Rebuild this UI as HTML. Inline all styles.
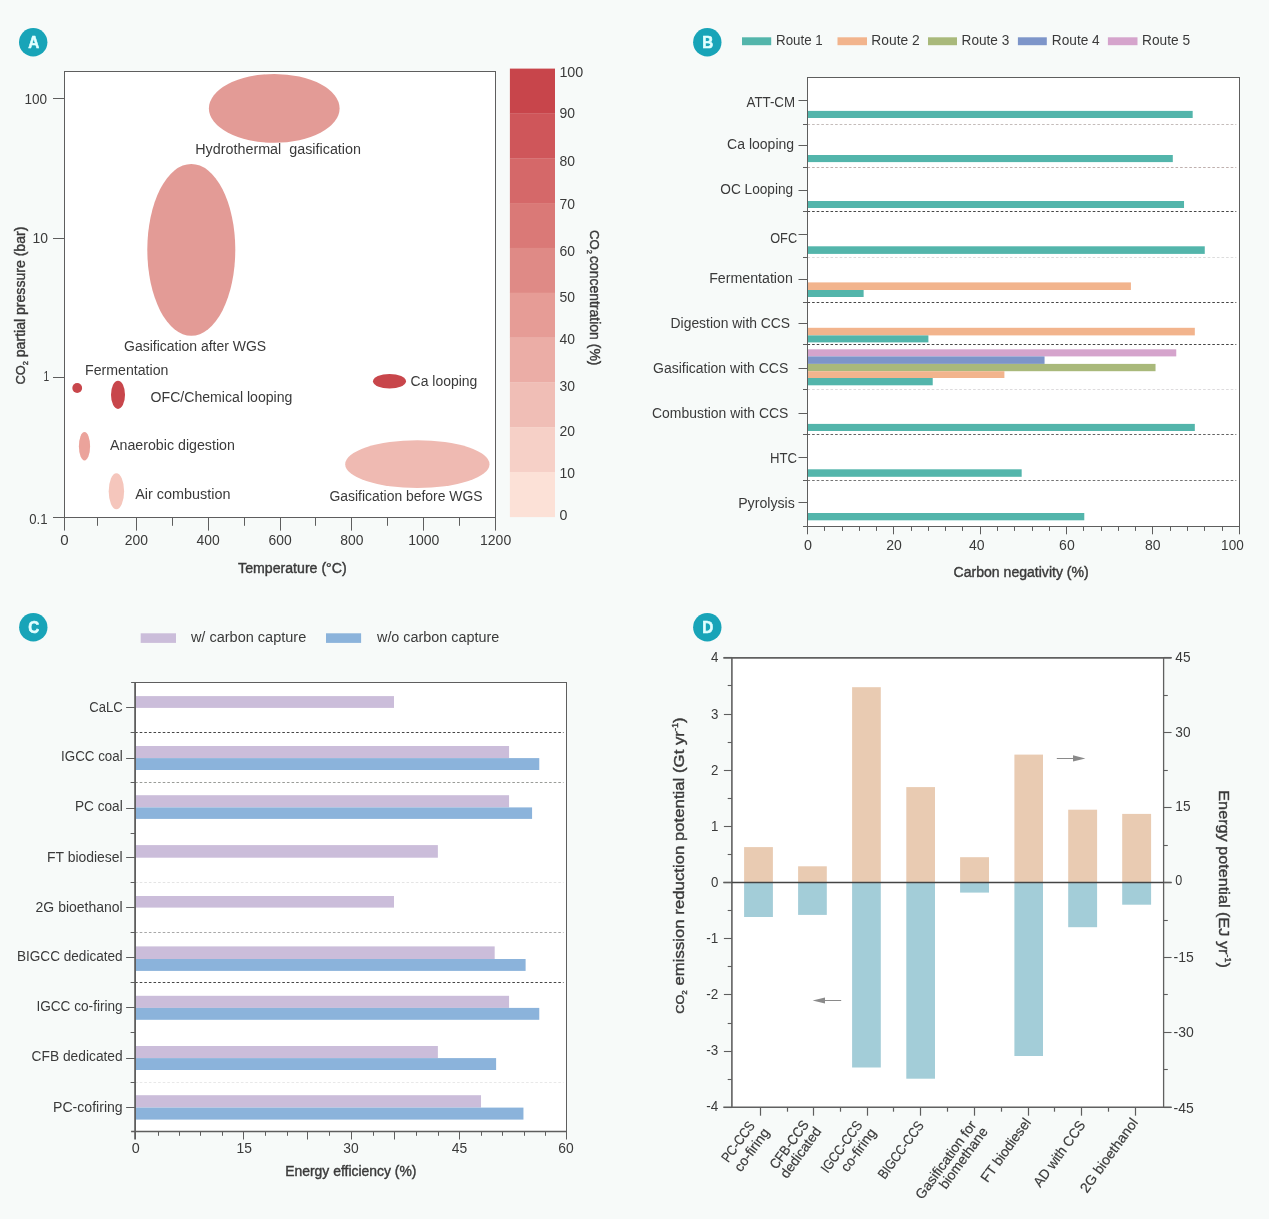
<!DOCTYPE html>
<html><head><meta charset="utf-8"><title>Figure</title>
<style>html,body{margin:0;padding:0;background:#f7faf9}svg{display:block}text{font-family:"Liberation Sans", sans-serif;fill:#3a3a3a}.m{stroke:#3a3a3a;stroke-width:0.4px}.r{stroke:#3a3a3a;stroke-width:0.2px}</style>
</head><body>
<svg width="1269" height="1219" viewBox="0 0 1269 1219">
<rect x="0" y="0" width="1269" height="1219" fill="#f7faf9"/>
<g style="will-change:transform">
<rect x="64.5" y="71.6" width="431.1" height="445.7" fill="#ffffff"/>
<ellipse cx="274.25" cy="108.4" rx="65.35" ry="34.4" fill="#e39b96"/>
<ellipse cx="191.3" cy="249.85" rx="44" ry="85.95" fill="#e39b96"/>
<ellipse cx="77.2" cy="388" rx="4.9" ry="4.9" fill="#c8464b"/>
<ellipse cx="118" cy="394.8" rx="7" ry="14.1" fill="#c8464b"/>
<ellipse cx="84.5" cy="446.25" rx="5.6" ry="14.15" fill="#eba39b"/>
<ellipse cx="116.4" cy="491.25" rx="7.7" ry="18.05" fill="#f5c6bc"/>
<ellipse cx="389.5" cy="381.25" rx="16.5" ry="7.35" fill="#c8464b"/>
<ellipse cx="417.35" cy="464.15" rx="72.15" ry="23.95" fill="#efbab2"/>
<rect x="64.5" y="71.5" width="431" height="446" fill="none" stroke="#5e5e5e" stroke-width="1"/>
<line x1="64.5" y1="517.3" x2="64.5" y2="530.6" stroke="#5e5e5e" stroke-width="1"/>
<line x1="97.5" y1="517.3" x2="97.5" y2="525.8" stroke="#5e5e5e" stroke-width="1"/>
<line x1="136.5" y1="517.3" x2="136.5" y2="530.6" stroke="#5e5e5e" stroke-width="1"/>
<line x1="172.5" y1="517.3" x2="172.5" y2="525.8" stroke="#5e5e5e" stroke-width="1"/>
<line x1="208.5" y1="517.3" x2="208.5" y2="530.6" stroke="#5e5e5e" stroke-width="1"/>
<line x1="244.5" y1="517.3" x2="244.5" y2="525.8" stroke="#5e5e5e" stroke-width="1"/>
<line x1="280.5" y1="517.3" x2="280.5" y2="530.6" stroke="#5e5e5e" stroke-width="1"/>
<line x1="315.5" y1="517.3" x2="315.5" y2="525.8" stroke="#5e5e5e" stroke-width="1"/>
<line x1="351.5" y1="517.3" x2="351.5" y2="530.6" stroke="#5e5e5e" stroke-width="1"/>
<line x1="387.5" y1="517.3" x2="387.5" y2="525.8" stroke="#5e5e5e" stroke-width="1"/>
<line x1="423.5" y1="517.3" x2="423.5" y2="530.6" stroke="#5e5e5e" stroke-width="1"/>
<line x1="459.5" y1="517.3" x2="459.5" y2="525.8" stroke="#5e5e5e" stroke-width="1"/>
<line x1="495.5" y1="517.3" x2="495.5" y2="530.6" stroke="#5e5e5e" stroke-width="1"/>
<line x1="53" y1="98.5" x2="64.5" y2="98.5" stroke="#5e5e5e" stroke-width="1"/>
<line x1="53" y1="238.5" x2="64.5" y2="238.5" stroke="#5e5e5e" stroke-width="1"/>
<line x1="53" y1="377.5" x2="64.5" y2="377.5" stroke="#5e5e5e" stroke-width="1"/>
<line x1="53" y1="517.5" x2="64.5" y2="517.5" stroke="#5e5e5e" stroke-width="1"/>
<text x="24.5" y="103.7" font-size="14" textLength="22.6" lengthAdjust="spacingAndGlyphs">100</text>
<text x="32.6" y="242.9" font-size="14" textLength="15.5" lengthAdjust="spacingAndGlyphs">10</text>
<text x="43.4" y="380.9" font-size="14" textLength="5.7" lengthAdjust="spacingAndGlyphs">1</text>
<text x="29.3" y="523.9" font-size="14" textLength="18.3" lengthAdjust="spacingAndGlyphs">0.1</text>
<text x="64.5" y="545.2" font-size="14" text-anchor="middle" textLength="8.4" lengthAdjust="spacingAndGlyphs">0</text>
<text x="136.35" y="545.2" font-size="14" text-anchor="middle" textLength="23.2" lengthAdjust="spacingAndGlyphs">200</text>
<text x="208.2" y="545.2" font-size="14" text-anchor="middle" textLength="23.2" lengthAdjust="spacingAndGlyphs">400</text>
<text x="280.05" y="545.2" font-size="14" text-anchor="middle" textLength="23.2" lengthAdjust="spacingAndGlyphs">600</text>
<text x="351.9" y="545.2" font-size="14" text-anchor="middle" textLength="23.2" lengthAdjust="spacingAndGlyphs">800</text>
<text x="423.75" y="545.2" font-size="14" text-anchor="middle" textLength="31.2" lengthAdjust="spacingAndGlyphs">1000</text>
<text x="495.6" y="545.2" font-size="14" text-anchor="middle" textLength="31.2" lengthAdjust="spacingAndGlyphs">1200</text>
<text x="238.1" y="573.2" font-size="14" textLength="108.6" lengthAdjust="spacingAndGlyphs" class="m">Temperature (&#176;C)</text>
<text transform="translate(24.6 384.6) rotate(-90)" font-size="14" class="m" textLength="158" lengthAdjust="spacingAndGlyphs"><tspan font-size="12.8">CO</tspan><tspan font-size="7.5" dy="3">2</tspan><tspan dy="-3"> partial pressure (bar)</tspan></text>
<text x="195.2" y="153.8" font-size="14" textLength="165.8" lengthAdjust="spacingAndGlyphs">Hydrothermal&#160; gasification</text>
<text x="124" y="350.6" font-size="14" textLength="142.2" lengthAdjust="spacingAndGlyphs">Gasification after WGS</text>
<text x="85" y="374.9" font-size="14" textLength="83.4" lengthAdjust="spacingAndGlyphs">Fermentation</text>
<text x="150.6" y="401.7" font-size="14" textLength="141.8" lengthAdjust="spacingAndGlyphs">OFC/Chemical looping</text>
<text x="110" y="449.5" font-size="14" textLength="124.9" lengthAdjust="spacingAndGlyphs">Anaerobic digestion</text>
<text x="135.2" y="498.9" font-size="14" textLength="95.2" lengthAdjust="spacingAndGlyphs">Air combustion</text>
<text x="410.6" y="386.2" font-size="14" textLength="66.7" lengthAdjust="spacingAndGlyphs">Ca looping</text>
<text x="329.4" y="500.5" font-size="14" textLength="153.2" lengthAdjust="spacingAndGlyphs">Gasification before WGS</text>
<rect x="509.9" y="68.6" width="45.1" height="45.12" fill="#c8454b"/>
<rect x="509.9" y="113.42" width="45.1" height="45.12" fill="#cf565a"/>
<rect x="509.9" y="158.24" width="45.1" height="45.12" fill="#d56869"/>
<rect x="509.9" y="203.06" width="45.1" height="45.12" fill="#da7977"/>
<rect x="509.9" y="247.88" width="45.1" height="45.12" fill="#df8a86"/>
<rect x="509.9" y="292.7" width="45.1" height="45.12" fill="#e69c96"/>
<rect x="509.9" y="337.52" width="45.1" height="45.12" fill="#ebada6"/>
<rect x="509.9" y="382.34" width="45.1" height="45.12" fill="#f0beb6"/>
<rect x="509.9" y="427.16" width="45.1" height="45.12" fill="#f6d0c7"/>
<rect x="509.9" y="471.98" width="45.1" height="45.12" fill="#fce1d7"/>
<text x="559.4" y="77.1" font-size="14" textLength="23.9" lengthAdjust="spacingAndGlyphs">100</text>
<text x="559.4" y="118" font-size="14" textLength="15.5" lengthAdjust="spacingAndGlyphs">90</text>
<text x="559.4" y="165.9" font-size="14" textLength="15.5" lengthAdjust="spacingAndGlyphs">80</text>
<text x="559.4" y="208.8" font-size="14" textLength="15.5" lengthAdjust="spacingAndGlyphs">70</text>
<text x="559.4" y="256.2" font-size="14" textLength="15.5" lengthAdjust="spacingAndGlyphs">60</text>
<text x="559.4" y="302.1" font-size="14" textLength="15.5" lengthAdjust="spacingAndGlyphs">50</text>
<text x="559.4" y="344.1" font-size="14" textLength="15.5" lengthAdjust="spacingAndGlyphs">40</text>
<text x="559.4" y="390.8" font-size="14" textLength="15.5" lengthAdjust="spacingAndGlyphs">30</text>
<text x="559.4" y="436.2" font-size="14" textLength="15.5" lengthAdjust="spacingAndGlyphs">20</text>
<text x="559.4" y="478.4" font-size="14" textLength="15.5" lengthAdjust="spacingAndGlyphs">10</text>
<text x="559.4" y="520" font-size="14" textLength="7.9" lengthAdjust="spacingAndGlyphs">0</text>
<text transform="translate(590.2 230) rotate(90)" font-size="14" class="m" textLength="135.5" lengthAdjust="spacingAndGlyphs"><tspan font-size="13.2">CO</tspan><tspan font-size="7.5" dy="3">2</tspan><tspan dy="-3" font-size="7">&#160;</tspan>concentration (%)</tspan></text>
<circle cx="33.2" cy="42.3" r="14.2" fill="#18a4b8"/>
<text x="33.7" y="48.1" font-size="17" text-anchor="middle" textLength="11" lengthAdjust="spacingAndGlyphs" font-weight="bold" style="fill:#e2ffff" stroke="#e2ffff" stroke-width="0.6" stroke-linejoin="round">A</text>
<rect x="807.5" y="77.7" width="431.8" height="448.6" fill="#ffffff"/>
<line x1="807.5" y1="124.5" x2="1236.3" y2="124.5" stroke="#c4bcba" stroke-width="1" stroke-dasharray="2.6 2"/>
<line x1="803" y1="124.5" x2="807.5" y2="124.5" stroke="#5e5e5e" stroke-width="1"/>
<line x1="807.5" y1="167.5" x2="1236.3" y2="167.5" stroke="#bfb0ae" stroke-width="1" stroke-dasharray="2.6 2"/>
<line x1="803" y1="167.5" x2="807.5" y2="167.5" stroke="#5e5e5e" stroke-width="1"/>
<line x1="807.5" y1="211.5" x2="1236.3" y2="211.5" stroke="#464646" stroke-width="1" stroke-dasharray="2.6 2"/>
<line x1="803" y1="211.5" x2="807.5" y2="211.5" stroke="#5e5e5e" stroke-width="1"/>
<line x1="807.5" y1="257.5" x2="1236.3" y2="257.5" stroke="#dcdcdc" stroke-width="1" stroke-dasharray="2.6 2"/>
<line x1="803" y1="257.5" x2="807.5" y2="257.5" stroke="#5e5e5e" stroke-width="1"/>
<line x1="807.5" y1="302.5" x2="1236.3" y2="302.5" stroke="#464646" stroke-width="1" stroke-dasharray="2.6 2"/>
<line x1="803" y1="302.5" x2="807.5" y2="302.5" stroke="#5e5e5e" stroke-width="1"/>
<line x1="807.5" y1="344.5" x2="1236.3" y2="344.5" stroke="#464646" stroke-width="1" stroke-dasharray="2.6 2"/>
<line x1="803" y1="344.5" x2="807.5" y2="344.5" stroke="#5e5e5e" stroke-width="1"/>
<line x1="807.5" y1="389.5" x2="1236.3" y2="389.5" stroke="#dddbdd" stroke-width="1" stroke-dasharray="2.6 2"/>
<line x1="803" y1="389.5" x2="807.5" y2="389.5" stroke="#5e5e5e" stroke-width="1"/>
<line x1="807.5" y1="434.5" x2="1236.3" y2="434.5" stroke="#646464" stroke-width="1" stroke-dasharray="2.6 2"/>
<line x1="803" y1="434.5" x2="807.5" y2="434.5" stroke="#5e5e5e" stroke-width="1"/>
<line x1="807.5" y1="480.5" x2="1236.3" y2="480.5" stroke="#747474" stroke-width="1" stroke-dasharray="2.6 2"/>
<line x1="803" y1="480.5" x2="807.5" y2="480.5" stroke="#5e5e5e" stroke-width="1"/>
<line x1="803" y1="526.5" x2="807.5" y2="526.5" stroke="#5e5e5e" stroke-width="1"/>
<rect x="807.5" y="110.9" width="385.17" height="7.1" fill="#53b5ab"/>
<rect x="807.5" y="155" width="365.3" height="7.1" fill="#53b5ab"/>
<rect x="807.5" y="201" width="376.53" height="7" fill="#53b5ab"/>
<rect x="807.5" y="246.3" width="397.26" height="7.6" fill="#53b5ab"/>
<rect x="807.5" y="282.4" width="323.42" height="7.6" fill="#f2b48d"/>
<rect x="807.5" y="290" width="56.13" height="7" fill="#53b5ab"/>
<rect x="807.5" y="327.8" width="387.32" height="7.6" fill="#f2b48d"/>
<rect x="807.5" y="335.4" width="120.9" height="7" fill="#53b5ab"/>
<rect x="807.5" y="349.3" width="368.76" height="7.1" fill="#d5a4cc"/>
<rect x="807.5" y="356.4" width="237.06" height="7.5" fill="#7d95c9"/>
<rect x="807.5" y="363.9" width="348.03" height="7.3" fill="#a9b97b"/>
<rect x="807.5" y="371.2" width="196.9" height="6.8" fill="#f2b48d"/>
<rect x="807.5" y="378" width="125.22" height="7.3" fill="#53b5ab"/>
<rect x="807.5" y="423.9" width="387.32" height="7.1" fill="#53b5ab"/>
<rect x="807.5" y="469.3" width="214.17" height="7.5" fill="#53b5ab"/>
<rect x="807.5" y="513" width="276.78" height="7.3" fill="#53b5ab"/>
<rect x="807.5" y="77.5" width="432" height="449" fill="none" stroke="#5e5e5e" stroke-width="1"/>
<line x1="807.5" y1="526.3" x2="807.5" y2="534.3" stroke="#5e5e5e" stroke-width="1"/>
<line x1="824.5" y1="526.3" x2="824.5" y2="530.9" stroke="#5e5e5e" stroke-width="1"/>
<line x1="842.5" y1="526.3" x2="842.5" y2="530.9" stroke="#5e5e5e" stroke-width="1"/>
<line x1="859.5" y1="526.3" x2="859.5" y2="530.9" stroke="#5e5e5e" stroke-width="1"/>
<line x1="876.5" y1="526.3" x2="876.5" y2="530.9" stroke="#5e5e5e" stroke-width="1"/>
<line x1="893.5" y1="526.3" x2="893.5" y2="534.3" stroke="#5e5e5e" stroke-width="1"/>
<line x1="911.5" y1="526.3" x2="911.5" y2="530.9" stroke="#5e5e5e" stroke-width="1"/>
<line x1="928.5" y1="526.3" x2="928.5" y2="530.9" stroke="#5e5e5e" stroke-width="1"/>
<line x1="945.5" y1="526.3" x2="945.5" y2="530.9" stroke="#5e5e5e" stroke-width="1"/>
<line x1="962.5" y1="526.3" x2="962.5" y2="530.9" stroke="#5e5e5e" stroke-width="1"/>
<line x1="980.5" y1="526.3" x2="980.5" y2="534.3" stroke="#5e5e5e" stroke-width="1"/>
<line x1="997.5" y1="526.3" x2="997.5" y2="530.9" stroke="#5e5e5e" stroke-width="1"/>
<line x1="1014.5" y1="526.3" x2="1014.5" y2="530.9" stroke="#5e5e5e" stroke-width="1"/>
<line x1="1032.5" y1="526.3" x2="1032.5" y2="530.9" stroke="#5e5e5e" stroke-width="1"/>
<line x1="1049.5" y1="526.3" x2="1049.5" y2="530.9" stroke="#5e5e5e" stroke-width="1"/>
<line x1="1066.5" y1="526.3" x2="1066.5" y2="534.3" stroke="#5e5e5e" stroke-width="1"/>
<line x1="1083.5" y1="526.3" x2="1083.5" y2="530.9" stroke="#5e5e5e" stroke-width="1"/>
<line x1="1101.5" y1="526.3" x2="1101.5" y2="530.9" stroke="#5e5e5e" stroke-width="1"/>
<line x1="1118.5" y1="526.3" x2="1118.5" y2="530.9" stroke="#5e5e5e" stroke-width="1"/>
<line x1="1135.5" y1="526.3" x2="1135.5" y2="530.9" stroke="#5e5e5e" stroke-width="1"/>
<line x1="1152.5" y1="526.3" x2="1152.5" y2="534.3" stroke="#5e5e5e" stroke-width="1"/>
<line x1="1170.5" y1="526.3" x2="1170.5" y2="530.9" stroke="#5e5e5e" stroke-width="1"/>
<line x1="1187.5" y1="526.3" x2="1187.5" y2="530.9" stroke="#5e5e5e" stroke-width="1"/>
<line x1="1204.5" y1="526.3" x2="1204.5" y2="530.9" stroke="#5e5e5e" stroke-width="1"/>
<line x1="1222.5" y1="526.3" x2="1222.5" y2="530.9" stroke="#5e5e5e" stroke-width="1"/>
<line x1="1239.5" y1="526.3" x2="1239.5" y2="534.3" stroke="#5e5e5e" stroke-width="1"/>
<text x="807.9" y="549.8" font-size="14" text-anchor="middle" textLength="8" lengthAdjust="spacingAndGlyphs">0</text>
<text x="894" y="549.8" font-size="14" text-anchor="middle" textLength="15.6" lengthAdjust="spacingAndGlyphs">20</text>
<text x="976.7" y="549.8" font-size="14" text-anchor="middle" textLength="15.6" lengthAdjust="spacingAndGlyphs">40</text>
<text x="1066.9" y="549.8" font-size="14" text-anchor="middle" textLength="15.6" lengthAdjust="spacingAndGlyphs">60</text>
<text x="1152.8" y="549.8" font-size="14" text-anchor="middle" textLength="15.6" lengthAdjust="spacingAndGlyphs">80</text>
<text x="1232.4" y="549.8" font-size="14" text-anchor="middle" textLength="22.6" lengthAdjust="spacingAndGlyphs">100</text>
<text x="953.6" y="576.7" font-size="14" textLength="135.1" lengthAdjust="spacingAndGlyphs" class="m">Carbon negativity (%)</text>
<line x1="798.5" y1="100.5" x2="807.5" y2="100.5" stroke="#5e5e5e" stroke-width="1"/>
<text x="746.5" y="106.9" font-size="14" textLength="48.6" lengthAdjust="spacingAndGlyphs">ATT-CM</text>
<line x1="798.5" y1="145.5" x2="807.5" y2="145.5" stroke="#5e5e5e" stroke-width="1"/>
<text x="727.1" y="148.9" font-size="14" textLength="67" lengthAdjust="spacingAndGlyphs">Ca looping</text>
<line x1="798.5" y1="190.5" x2="807.5" y2="190.5" stroke="#5e5e5e" stroke-width="1"/>
<text x="720.3" y="194.2" font-size="14" textLength="72.8" lengthAdjust="spacingAndGlyphs">OC Looping</text>
<line x1="798.5" y1="234.5" x2="807.5" y2="234.5" stroke="#5e5e5e" stroke-width="1"/>
<text x="770.2" y="242.6" font-size="14" textLength="26.9" lengthAdjust="spacingAndGlyphs">OFC</text>
<line x1="798.5" y1="279.5" x2="807.5" y2="279.5" stroke="#5e5e5e" stroke-width="1"/>
<text x="709.2" y="283.4" font-size="14" textLength="83.6" lengthAdjust="spacingAndGlyphs">Fermentation</text>
<line x1="798.5" y1="323.5" x2="807.5" y2="323.5" stroke="#5e5e5e" stroke-width="1"/>
<text x="670.6" y="327.8" font-size="14" textLength="119.5" lengthAdjust="spacingAndGlyphs">Digestion with CCS</text>
<line x1="798.5" y1="368.5" x2="807.5" y2="368.5" stroke="#5e5e5e" stroke-width="1"/>
<text x="653" y="373.2" font-size="14" textLength="135.3" lengthAdjust="spacingAndGlyphs">Gasification with CCS</text>
<line x1="798.5" y1="413.5" x2="807.5" y2="413.5" stroke="#5e5e5e" stroke-width="1"/>
<text x="652" y="417.8" font-size="14" textLength="136.3" lengthAdjust="spacingAndGlyphs">Combustion with CCS</text>
<line x1="798.5" y1="457.5" x2="807.5" y2="457.5" stroke="#5e5e5e" stroke-width="1"/>
<text x="770" y="463" font-size="14" textLength="27.1" lengthAdjust="spacingAndGlyphs">HTC</text>
<line x1="798.5" y1="502.5" x2="807.5" y2="502.5" stroke="#5e5e5e" stroke-width="1"/>
<text x="738.2" y="507.9" font-size="14" textLength="56.6" lengthAdjust="spacingAndGlyphs">Pyrolysis</text>
<rect x="742" y="37.3" width="29.2" height="7.9" fill="#53b5ab"/>
<text x="776" y="45.4" font-size="14.5" textLength="46.8" lengthAdjust="spacingAndGlyphs">Route 1</text>
<rect x="837.5" y="37.3" width="29.5" height="7.9" fill="#f2b48d"/>
<text x="871.3" y="45.4" font-size="14.5" textLength="48.4" lengthAdjust="spacingAndGlyphs">Route 2</text>
<rect x="928" y="37.3" width="29" height="7.9" fill="#a9b97b"/>
<text x="961.6" y="45.4" font-size="14.5" textLength="47.7" lengthAdjust="spacingAndGlyphs">Route 3</text>
<rect x="1017.9" y="37.3" width="28.9" height="7.9" fill="#7d95c9"/>
<text x="1051.8" y="45.4" font-size="14.5" textLength="47.9" lengthAdjust="spacingAndGlyphs">Route 4</text>
<rect x="1107.9" y="37.3" width="29.6" height="7.9" fill="#d5a4cc"/>
<text x="1142.1" y="45.4" font-size="14.5" textLength="47.9" lengthAdjust="spacingAndGlyphs">Route 5</text>
<circle cx="707.3" cy="42.3" r="14.2" fill="#18a4b8"/>
<text x="707.8" y="48.1" font-size="17" text-anchor="middle" textLength="11" lengthAdjust="spacingAndGlyphs" font-weight="bold" style="fill:#e2ffff" stroke="#e2ffff" stroke-width="0.6" stroke-linejoin="round">B</text>
<rect x="135.1" y="682.5" width="431.5" height="448.5" fill="#ffffff"/>
<line x1="135.1" y1="732.5" x2="563.6" y2="732.5" stroke="#464646" stroke-width="1" stroke-dasharray="2.6 2"/>
<line x1="130.6" y1="732.5" x2="135.1" y2="732.5" stroke="#5e5e5e" stroke-width="1"/>
<line x1="135.1" y1="782.5" x2="563.6" y2="782.5" stroke="#9a9c98" stroke-width="1" stroke-dasharray="2.6 2"/>
<line x1="130.6" y1="782.5" x2="135.1" y2="782.5" stroke="#5e5e5e" stroke-width="1"/>
<line x1="130.6" y1="833.5" x2="135.1" y2="833.5" stroke="#5e5e5e" stroke-width="1"/>
<line x1="135.1" y1="882.5" x2="563.6" y2="882.5" stroke="#e4e4e4" stroke-width="1" stroke-dasharray="2.6 2"/>
<line x1="130.6" y1="882.5" x2="135.1" y2="882.5" stroke="#5e5e5e" stroke-width="1"/>
<line x1="135.1" y1="932.5" x2="563.6" y2="932.5" stroke="#a8a8a8" stroke-width="1" stroke-dasharray="2.6 2"/>
<line x1="130.6" y1="932.5" x2="135.1" y2="932.5" stroke="#5e5e5e" stroke-width="1"/>
<line x1="135.1" y1="982.5" x2="563.6" y2="982.5" stroke="#464646" stroke-width="1" stroke-dasharray="2.6 2"/>
<line x1="130.6" y1="982.5" x2="135.1" y2="982.5" stroke="#5e5e5e" stroke-width="1"/>
<line x1="130.6" y1="1032.5" x2="135.1" y2="1032.5" stroke="#5e5e5e" stroke-width="1"/>
<line x1="135.1" y1="1082.5" x2="563.6" y2="1082.5" stroke="#e8e8e8" stroke-width="1" stroke-dasharray="2.6 2"/>
<line x1="130.6" y1="1082.5" x2="135.1" y2="1082.5" stroke="#5e5e5e" stroke-width="1"/>
<rect x="135.1" y="696.1" width="258.9" height="11.8" fill="#cbbdda"/>
<rect x="135.1" y="746" width="373.97" height="12.1" fill="#cbbdda"/>
<rect x="135.1" y="758.1" width="404.17" height="11.9" fill="#8bb3db"/>
<rect x="135.1" y="795.2" width="373.97" height="12.2" fill="#cbbdda"/>
<rect x="135.1" y="807.4" width="396.98" height="11.5" fill="#8bb3db"/>
<rect x="135.1" y="845.1" width="302.77" height="12.6" fill="#cbbdda"/>
<rect x="135.1" y="896" width="258.9" height="11.6" fill="#cbbdda"/>
<rect x="135.1" y="946.4" width="359.58" height="12.6" fill="#cbbdda"/>
<rect x="135.1" y="959" width="390.51" height="11.9" fill="#8bb3db"/>
<rect x="135.1" y="995.8" width="373.97" height="12.1" fill="#cbbdda"/>
<rect x="135.1" y="1007.9" width="404.17" height="11.9" fill="#8bb3db"/>
<rect x="135.1" y="1046" width="302.77" height="12.1" fill="#cbbdda"/>
<rect x="135.1" y="1058.1" width="361.02" height="11.9" fill="#8bb3db"/>
<rect x="135.1" y="1095.2" width="345.92" height="12.4" fill="#cbbdda"/>
<rect x="135.1" y="1107.6" width="388.35" height="12" fill="#8bb3db"/>
<rect x="135.5" y="682.5" width="431" height="449" fill="none" stroke="#5e5e5e" stroke-width="1"/>
<line x1="135.1" y1="682.5" x2="135.1" y2="1139.5" stroke="#5e5e5e" stroke-width="1.8"/>
<line x1="131.1" y1="682.5" x2="135.1" y2="682.5" stroke="#5e5e5e" stroke-width="1"/>
<line x1="131.1" y1="1131.5" x2="566.6" y2="1131.5" stroke="#5e5e5e" stroke-width="1.3"/>
<line x1="158.5" y1="1131" x2="158.5" y2="1135.8" stroke="#5e5e5e" stroke-width="1"/>
<line x1="179.5" y1="1131" x2="179.5" y2="1135.8" stroke="#5e5e5e" stroke-width="1"/>
<line x1="200.5" y1="1131" x2="200.5" y2="1135.8" stroke="#5e5e5e" stroke-width="1"/>
<line x1="222.5" y1="1131" x2="222.5" y2="1135.8" stroke="#5e5e5e" stroke-width="1"/>
<line x1="243.5" y1="1131" x2="243.5" y2="1139.5" stroke="#5e5e5e" stroke-width="1"/>
<line x1="265.5" y1="1131" x2="265.5" y2="1135.8" stroke="#5e5e5e" stroke-width="1"/>
<line x1="287.5" y1="1131" x2="287.5" y2="1135.8" stroke="#5e5e5e" stroke-width="1"/>
<line x1="307.5" y1="1131" x2="307.5" y2="1139.5" stroke="#5e5e5e" stroke-width="1"/>
<line x1="329.5" y1="1131" x2="329.5" y2="1135.8" stroke="#5e5e5e" stroke-width="1"/>
<line x1="351.5" y1="1131" x2="351.5" y2="1139.5" stroke="#5e5e5e" stroke-width="1"/>
<line x1="373.5" y1="1131" x2="373.5" y2="1135.8" stroke="#5e5e5e" stroke-width="1"/>
<line x1="394.5" y1="1131" x2="394.5" y2="1139.5" stroke="#5e5e5e" stroke-width="1"/>
<line x1="416.5" y1="1131" x2="416.5" y2="1135.8" stroke="#5e5e5e" stroke-width="1"/>
<line x1="438.5" y1="1131" x2="438.5" y2="1135.8" stroke="#5e5e5e" stroke-width="1"/>
<line x1="459.5" y1="1131" x2="459.5" y2="1139.5" stroke="#5e5e5e" stroke-width="1"/>
<line x1="481.5" y1="1131" x2="481.5" y2="1135.8" stroke="#5e5e5e" stroke-width="1"/>
<line x1="502.5" y1="1131" x2="502.5" y2="1135.8" stroke="#5e5e5e" stroke-width="1"/>
<line x1="524.5" y1="1131" x2="524.5" y2="1135.8" stroke="#5e5e5e" stroke-width="1"/>
<line x1="545.5" y1="1131" x2="545.5" y2="1135.8" stroke="#5e5e5e" stroke-width="1"/>
<line x1="566.5" y1="1131" x2="566.5" y2="1139.5" stroke="#5e5e5e" stroke-width="1"/>
<text x="135.7" y="1152.9" font-size="14" text-anchor="middle" textLength="8" lengthAdjust="spacingAndGlyphs">0</text>
<text x="244.2" y="1152.9" font-size="14" text-anchor="middle" textLength="15.4" lengthAdjust="spacingAndGlyphs">15</text>
<text x="350.9" y="1152.9" font-size="14" text-anchor="middle" textLength="15.4" lengthAdjust="spacingAndGlyphs">30</text>
<text x="459.4" y="1152.9" font-size="14" text-anchor="middle" textLength="15.4" lengthAdjust="spacingAndGlyphs">45</text>
<text x="566" y="1152.9" font-size="14" text-anchor="middle" textLength="15.4" lengthAdjust="spacingAndGlyphs">60</text>
<text x="285.2" y="1175.7" font-size="14" textLength="131.3" lengthAdjust="spacingAndGlyphs" class="m">Energy efficiency (%)</text>
<line x1="126.1" y1="707.5" x2="135.1" y2="707.5" stroke="#5e5e5e" stroke-width="1"/>
<text x="89.3" y="712.2" font-size="14" textLength="33.4" lengthAdjust="spacingAndGlyphs">CaLC</text>
<line x1="126.1" y1="758.5" x2="135.1" y2="758.5" stroke="#5e5e5e" stroke-width="1"/>
<text x="61.1" y="761.4" font-size="14" textLength="61.6" lengthAdjust="spacingAndGlyphs">IGCC coal</text>
<line x1="126.1" y1="808.5" x2="135.1" y2="808.5" stroke="#5e5e5e" stroke-width="1"/>
<text x="74.9" y="811.3" font-size="14" textLength="47.8" lengthAdjust="spacingAndGlyphs">PC coal</text>
<line x1="126.1" y1="857.5" x2="135.1" y2="857.5" stroke="#5e5e5e" stroke-width="1"/>
<text x="47" y="862.2" font-size="14" textLength="75.7" lengthAdjust="spacingAndGlyphs">FT biodiesel</text>
<line x1="126.1" y1="907.5" x2="135.1" y2="907.5" stroke="#5e5e5e" stroke-width="1"/>
<text x="35.6" y="911.9" font-size="14" textLength="87.1" lengthAdjust="spacingAndGlyphs">2G bioethanol</text>
<line x1="126.1" y1="957.5" x2="135.1" y2="957.5" stroke="#5e5e5e" stroke-width="1"/>
<text x="16.9" y="961.3" font-size="14" textLength="105.8" lengthAdjust="spacingAndGlyphs">BIGCC dedicated</text>
<line x1="126.1" y1="1007.5" x2="135.1" y2="1007.5" stroke="#5e5e5e" stroke-width="1"/>
<text x="36.4" y="1010.9" font-size="14" textLength="86.3" lengthAdjust="spacingAndGlyphs">IGCC co-firing</text>
<line x1="126.1" y1="1058.5" x2="135.1" y2="1058.5" stroke="#5e5e5e" stroke-width="1"/>
<text x="31.6" y="1061.4" font-size="14" textLength="91.1" lengthAdjust="spacingAndGlyphs">CFB dedicated</text>
<line x1="126.1" y1="1107.5" x2="135.1" y2="1107.5" stroke="#5e5e5e" stroke-width="1"/>
<text x="53" y="1111.8" font-size="14" textLength="69.7" lengthAdjust="spacingAndGlyphs">PC-cofiring</text>
<rect x="140.7" y="633.3" width="35.3" height="9.6" fill="#cbbdda"/>
<text x="190.9" y="642.1" font-size="14" textLength="115.4" lengthAdjust="spacingAndGlyphs">w/ carbon capture</text>
<rect x="326" y="633.3" width="35.1" height="9.6" fill="#8bb3db"/>
<text x="377" y="642.1" font-size="14" textLength="122.2" lengthAdjust="spacingAndGlyphs">w/o carbon capture</text>
<circle cx="33.3" cy="627.2" r="14.2" fill="#18a4b8"/>
<text x="33.8" y="633" font-size="17" text-anchor="middle" textLength="11" lengthAdjust="spacingAndGlyphs" font-weight="bold" style="fill:#e2ffff" stroke="#e2ffff" stroke-width="0.6" stroke-linejoin="round">C</text>
<rect x="731.9" y="657.9" width="431.7" height="449.4" fill="#ffffff"/>
<rect x="744.1" y="847.1" width="28.8" height="35.4" fill="#e9cbb2"/>
<rect x="744.1" y="882.5" width="28.8" height="34.5" fill="#a3cdd8"/>
<rect x="798.1" y="866.3" width="28.7" height="16.2" fill="#e9cbb2"/>
<rect x="798.1" y="882.5" width="28.7" height="32.4" fill="#a3cdd8"/>
<rect x="852.1" y="687.2" width="28.7" height="195.3" fill="#e9cbb2"/>
<rect x="852.1" y="882.5" width="28.7" height="185" fill="#a3cdd8"/>
<rect x="906.3" y="787.1" width="28.7" height="95.4" fill="#e9cbb2"/>
<rect x="906.3" y="882.5" width="28.7" height="196.2" fill="#a3cdd8"/>
<rect x="960.1" y="857.2" width="28.9" height="25.3" fill="#e9cbb2"/>
<rect x="960.1" y="882.5" width="28.9" height="10.1" fill="#a3cdd8"/>
<rect x="1014.4" y="754.6" width="28.6" height="127.9" fill="#e9cbb2"/>
<rect x="1014.4" y="882.5" width="28.6" height="173.5" fill="#a3cdd8"/>
<rect x="1068.2" y="809.7" width="28.9" height="72.8" fill="#e9cbb2"/>
<rect x="1068.2" y="882.5" width="28.9" height="44.7" fill="#a3cdd8"/>
<rect x="1122.2" y="813.9" width="28.9" height="68.6" fill="#e9cbb2"/>
<rect x="1122.2" y="882.5" width="28.9" height="22.2" fill="#a3cdd8"/>
<line x1="723.3" y1="657.9" x2="1171.6" y2="657.9" stroke="#606060" stroke-width="1.6"/>
<line x1="731.9" y1="657.9" x2="731.9" y2="1107.3" stroke="#606060" stroke-width="1.6"/>
<line x1="1163.6" y1="657.9" x2="1163.6" y2="1107.3" stroke="#606060" stroke-width="1.3"/>
<line x1="723.3" y1="1107.3" x2="1171.6" y2="1107.3" stroke="#606060" stroke-width="1.6"/>
<line x1="723.3" y1="882.5" x2="1171.6" y2="882.5" stroke="#444" stroke-width="1.3"/>
<line x1="723.9" y1="657.5" x2="731.9" y2="657.5" stroke="#5e5e5e" stroke-width="1.1"/>
<line x1="727.7" y1="685.5" x2="731.9" y2="685.5" stroke="#5e5e5e" stroke-width="1.1"/>
<line x1="723.9" y1="714.5" x2="731.9" y2="714.5" stroke="#5e5e5e" stroke-width="1.1"/>
<line x1="727.7" y1="742.5" x2="731.9" y2="742.5" stroke="#5e5e5e" stroke-width="1.1"/>
<line x1="723.9" y1="770.5" x2="731.9" y2="770.5" stroke="#5e5e5e" stroke-width="1.1"/>
<line x1="727.7" y1="798.5" x2="731.9" y2="798.5" stroke="#5e5e5e" stroke-width="1.1"/>
<line x1="723.9" y1="826.5" x2="731.9" y2="826.5" stroke="#5e5e5e" stroke-width="1.1"/>
<line x1="727.7" y1="854.5" x2="731.9" y2="854.5" stroke="#5e5e5e" stroke-width="1.1"/>
<line x1="723.9" y1="882.5" x2="731.9" y2="882.5" stroke="#5e5e5e" stroke-width="1.1"/>
<line x1="727.7" y1="910.5" x2="731.9" y2="910.5" stroke="#5e5e5e" stroke-width="1.1"/>
<line x1="723.9" y1="938.5" x2="731.9" y2="938.5" stroke="#5e5e5e" stroke-width="1.1"/>
<line x1="727.7" y1="966.5" x2="731.9" y2="966.5" stroke="#5e5e5e" stroke-width="1.1"/>
<line x1="723.9" y1="994.5" x2="731.9" y2="994.5" stroke="#5e5e5e" stroke-width="1.1"/>
<line x1="727.7" y1="1023.5" x2="731.9" y2="1023.5" stroke="#5e5e5e" stroke-width="1.1"/>
<line x1="723.9" y1="1051.5" x2="731.9" y2="1051.5" stroke="#5e5e5e" stroke-width="1.1"/>
<line x1="727.7" y1="1079.5" x2="731.9" y2="1079.5" stroke="#5e5e5e" stroke-width="1.1"/>
<line x1="723.9" y1="1107.5" x2="731.9" y2="1107.5" stroke="#5e5e5e" stroke-width="1.1"/>
<line x1="1163.6" y1="657.5" x2="1171.6" y2="657.5" stroke="#5e5e5e" stroke-width="1.1"/>
<line x1="1163.6" y1="695.5" x2="1167.8" y2="695.5" stroke="#5e5e5e" stroke-width="1.1"/>
<line x1="1163.6" y1="732.5" x2="1171.6" y2="732.5" stroke="#5e5e5e" stroke-width="1.1"/>
<line x1="1163.6" y1="770.5" x2="1167.8" y2="770.5" stroke="#5e5e5e" stroke-width="1.1"/>
<line x1="1163.6" y1="807.5" x2="1171.6" y2="807.5" stroke="#5e5e5e" stroke-width="1.1"/>
<line x1="1163.6" y1="845.5" x2="1167.8" y2="845.5" stroke="#5e5e5e" stroke-width="1.1"/>
<line x1="1163.6" y1="882.5" x2="1171.6" y2="882.5" stroke="#5e5e5e" stroke-width="1.1"/>
<line x1="1163.6" y1="920.5" x2="1167.8" y2="920.5" stroke="#5e5e5e" stroke-width="1.1"/>
<line x1="1163.6" y1="957.5" x2="1171.6" y2="957.5" stroke="#5e5e5e" stroke-width="1.1"/>
<line x1="1163.6" y1="994.5" x2="1167.8" y2="994.5" stroke="#5e5e5e" stroke-width="1.1"/>
<line x1="1163.6" y1="1032.5" x2="1171.6" y2="1032.5" stroke="#5e5e5e" stroke-width="1.1"/>
<line x1="1163.6" y1="1069.5" x2="1167.8" y2="1069.5" stroke="#5e5e5e" stroke-width="1.1"/>
<line x1="1163.6" y1="1107.5" x2="1171.6" y2="1107.5" stroke="#5e5e5e" stroke-width="1.1"/>
<text x="718.3" y="661.8" font-size="14" text-anchor="end" textLength="7.4" lengthAdjust="spacingAndGlyphs">4</text>
<text x="718.3" y="718.6" font-size="14" text-anchor="end" textLength="7.4" lengthAdjust="spacingAndGlyphs">3</text>
<text x="718.3" y="774.8" font-size="14" text-anchor="end" textLength="7.4" lengthAdjust="spacingAndGlyphs">2</text>
<text x="718.3" y="830.8" font-size="14" text-anchor="end" textLength="7.4" lengthAdjust="spacingAndGlyphs">1</text>
<text x="718.3" y="886.5" font-size="14" text-anchor="end" textLength="7.4" lengthAdjust="spacingAndGlyphs">0</text>
<text x="718.3" y="942.8" font-size="14" text-anchor="end" textLength="12" lengthAdjust="spacingAndGlyphs">-1</text>
<text x="718.3" y="999" font-size="14" text-anchor="end" textLength="12" lengthAdjust="spacingAndGlyphs">-2</text>
<text x="718.3" y="1055.3" font-size="14" text-anchor="end" textLength="12" lengthAdjust="spacingAndGlyphs">-3</text>
<text x="718.3" y="1111" font-size="14" text-anchor="end" textLength="12" lengthAdjust="spacingAndGlyphs">-4</text>
<text x="1175.3" y="661.8" font-size="14" textLength="15.2" lengthAdjust="spacingAndGlyphs">45</text>
<text x="1175.3" y="736.7" font-size="14" textLength="15.2" lengthAdjust="spacingAndGlyphs">30</text>
<text x="1175.3" y="810.9" font-size="14" textLength="15.2" lengthAdjust="spacingAndGlyphs">15</text>
<text x="1175.3" y="885" font-size="14" textLength="7" lengthAdjust="spacingAndGlyphs">0</text>
<text x="1173.6" y="961.7" font-size="14" textLength="20.2" lengthAdjust="spacingAndGlyphs">-15</text>
<text x="1173.6" y="1036.8" font-size="14" textLength="20.2" lengthAdjust="spacingAndGlyphs">-30</text>
<text x="1173.6" y="1112.9" font-size="14" textLength="20.2" lengthAdjust="spacingAndGlyphs">-45</text>
<line x1="760.5" y1="1107.3" x2="760.5" y2="1115.7" stroke="#5e5e5e" stroke-width="1.2"/>
<line x1="813.5" y1="1107.3" x2="813.5" y2="1115.7" stroke="#5e5e5e" stroke-width="1.2"/>
<line x1="787.5" y1="1107.3" x2="787.5" y2="1111.7" stroke="#5e5e5e" stroke-width="1.2"/>
<line x1="867.5" y1="1107.3" x2="867.5" y2="1115.7" stroke="#5e5e5e" stroke-width="1.2"/>
<line x1="840.5" y1="1107.3" x2="840.5" y2="1111.7" stroke="#5e5e5e" stroke-width="1.2"/>
<line x1="920.5" y1="1107.3" x2="920.5" y2="1115.7" stroke="#5e5e5e" stroke-width="1.2"/>
<line x1="893.5" y1="1107.3" x2="893.5" y2="1111.7" stroke="#5e5e5e" stroke-width="1.2"/>
<line x1="974.5" y1="1107.3" x2="974.5" y2="1115.7" stroke="#5e5e5e" stroke-width="1.2"/>
<line x1="947.5" y1="1107.3" x2="947.5" y2="1111.7" stroke="#5e5e5e" stroke-width="1.2"/>
<line x1="1028.5" y1="1107.3" x2="1028.5" y2="1115.7" stroke="#5e5e5e" stroke-width="1.2"/>
<line x1="1001.5" y1="1107.3" x2="1001.5" y2="1111.7" stroke="#5e5e5e" stroke-width="1.2"/>
<line x1="1081.5" y1="1107.3" x2="1081.5" y2="1115.7" stroke="#5e5e5e" stroke-width="1.2"/>
<line x1="1054.5" y1="1107.3" x2="1054.5" y2="1111.7" stroke="#5e5e5e" stroke-width="1.2"/>
<line x1="1135.5" y1="1107.3" x2="1135.5" y2="1115.7" stroke="#5e5e5e" stroke-width="1.2"/>
<line x1="1108.5" y1="1107.3" x2="1108.5" y2="1111.7" stroke="#5e5e5e" stroke-width="1.2"/>
<text transform="translate(755.6 1125.6) rotate(-54)" font-size="14" text-anchor="end" class="r" textLength="46.5" lengthAdjust="spacingAndGlyphs">PC-CCS</text>
<text transform="translate(770 1132.6) rotate(-54)" font-size="14" text-anchor="end" class="r" textLength="49.5" lengthAdjust="spacingAndGlyphs">co-firing</text>
<text transform="translate(809.4 1124.7) rotate(-54)" font-size="14" text-anchor="end" class="r" textLength="56" lengthAdjust="spacingAndGlyphs">CFB-CCS</text>
<text transform="translate(821.9 1131.3) rotate(-54)" font-size="14" text-anchor="end" class="r" textLength="59.2" lengthAdjust="spacingAndGlyphs">dedicated</text>
<text transform="translate(863 1125.3) rotate(-54)" font-size="14" text-anchor="end" class="r" textLength="60" lengthAdjust="spacingAndGlyphs">IGCC-CCS</text>
<text transform="translate(876.7 1132.8) rotate(-54)" font-size="14" text-anchor="end" class="r" textLength="49.5" lengthAdjust="spacingAndGlyphs">co-firing</text>
<text transform="translate(924.5 1125.4) rotate(-54)" font-size="14" text-anchor="end" class="r" textLength="67.5" lengthAdjust="spacingAndGlyphs">BIGCC-CCS</text>
<text transform="translate(977 1125) rotate(-54)" font-size="14" text-anchor="end" class="r" textLength="93" lengthAdjust="spacingAndGlyphs">Gasification for</text>
<text transform="translate(988.4 1131.6) rotate(-54)" font-size="14" text-anchor="end" class="r" textLength="72.2" lengthAdjust="spacingAndGlyphs">biomethane</text>
<text transform="translate(1031.5 1122.6) rotate(-54)" font-size="14" text-anchor="end" class="r" textLength="75" lengthAdjust="spacingAndGlyphs">FT biodiesel</text>
<text transform="translate(1086.1 1125.1) rotate(-54)" font-size="14" text-anchor="end" class="r" textLength="77.8" lengthAdjust="spacingAndGlyphs">AD with CCS</text>
<text transform="translate(1138.7 1122.5) rotate(-54)" font-size="14" text-anchor="end" class="r" textLength="88" lengthAdjust="spacingAndGlyphs">2G bioethanol</text>
<line x1="1056.8" y1="758.5" x2="1076" y2="758.5" stroke="#8a8a8a" stroke-width="1"/>
<path d="M1085.4 758.4 L1073 755.3 L1073 761.5 Z" fill="#8a8a8a"/>
<line x1="822" y1="1000.5" x2="841.2" y2="1000.5" stroke="#8a8a8a" stroke-width="1"/>
<path d="M812.6 1000.5 L825 997.4 L825 1003.6 Z" fill="#8a8a8a"/>
<text transform="translate(684.2 1013.8) rotate(-90)" font-size="15.5" class="m" textLength="296.5" lengthAdjust="spacingAndGlyphs"><tspan font-size="11.8">CO</tspan><tspan font-size="7.5" dy="2.5">2</tspan><tspan dy="-2.5"> emission reduction potential (Gt yr</tspan><tspan font-size="8.5" dy="-6">-1</tspan><tspan dy="6">)</tspan></text>
<text transform="translate(1219.3 790.3) rotate(90)" font-size="15.5" class="m" textLength="177.5" lengthAdjust="spacingAndGlyphs">Energy potential (EJ yr<tspan font-size="8.5" dy="-6">-1</tspan><tspan dy="6">)</tspan></text>
<circle cx="707.3" cy="627.2" r="14.2" fill="#18a4b8"/>
<text x="707.8" y="633" font-size="17" text-anchor="middle" textLength="11" lengthAdjust="spacingAndGlyphs" font-weight="bold" style="fill:#e2ffff" stroke="#e2ffff" stroke-width="0.6" stroke-linejoin="round">D</text>
</g></svg></body></html>
